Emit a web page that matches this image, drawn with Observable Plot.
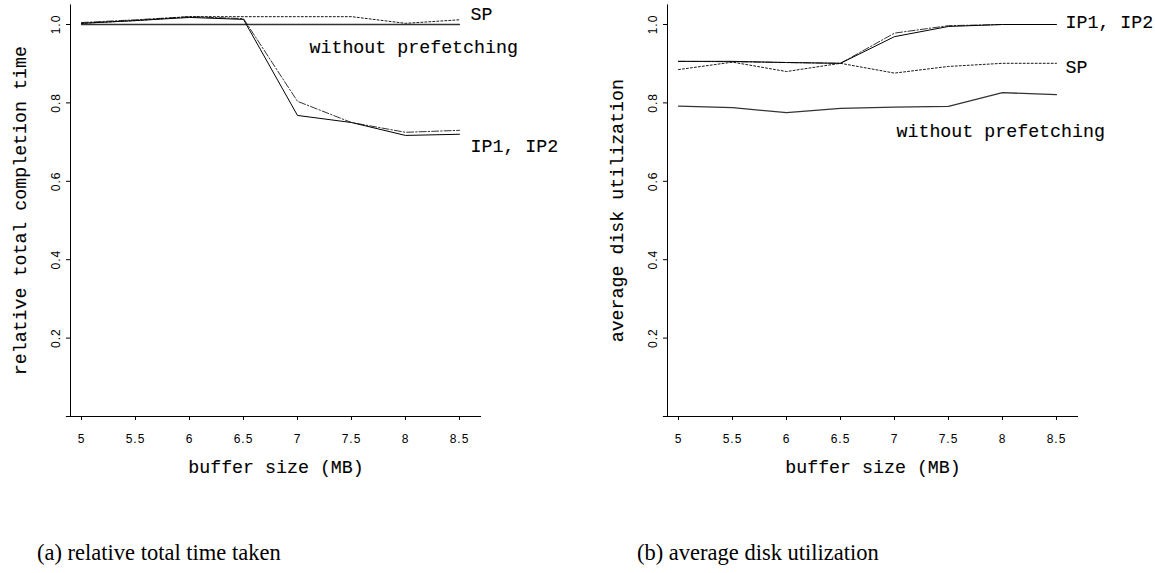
<!DOCTYPE html>
<html><head><meta charset="utf-8">
<script src="https://cdn.jsdelivr.net/npm/d3@7"></script>
<script src="https://cdn.jsdelivr.net/npm/@observablehq/plot@0.6"></script>
<style>
body{margin:0;background:#fff;}
#wrap{position:relative;width:1155px;height:573px;overflow:hidden;}
.panel{position:absolute;top:0;}
.cap{position:absolute;top:539px;font-family:"Liberation Serif",serif;font-size:22.5px;line-height:27px;color:#000;white-space:nowrap;}
</style></head><body>
<div id="wrap">
 <div id="pa" class="panel" style="left:0"></div>
 <div id="pb" class="panel" style="left:597px"></div>
 <div class="cap" style="left:37px">(a) relative total time taken</div>
 <div class="cap" style="left:637px">(b) average disk utilization</div>
</div>
<script>
const bufferSizes = [5, 5.5, 6, 6.5, 7, 7.5, 8, 8.5];
const xTicks = [5, 5.5, 6, 6.5, 7, 7.5, 8, 8.5];
const yTicks = [0.2, 0.4, 0.6, 0.8, 1.0];
const seriesNames = ["without prefetching", "SP", "IP1", "IP2"];

// (a) relative total completion time
const timeNoPrefetch = [1.0, 1.0, 1.0, 1.0, 1.0, 1.0, 1.0, 1.0];
const timeSP = [1.003, 1.010, 1.020, 1.020, 1.020, 1.020, 1.003, 1.012];
const timeIP1 = [1.003, 1.010, 1.018, 1.013, 0.768, 0.750, 0.717, 0.720];
const timeIP2 = [1.005, 1.012, 1.020, 1.015, 0.804, 0.750, 0.725, 0.730];

// (b) average disk utilization
const utilNoPrefetch = [0.792, 0.788, 0.775, 0.786, 0.789, 0.791, 0.826, 0.821];
const utilSP = [0.885, 0.904, 0.880, 0.901, 0.876, 0.893, 0.901, 0.901];
const utilIP1 = [0.906, 0.906, 0.903, 0.901, 0.969, 0.995, 1.0, 1.0];
const utilIP2 = [0.906, 0.905, 0.903, 0.901, 0.978, 0.997, 1.0, 1.0];

const SERIF = "Liberation Mono, monospace";
const SANS = "Liberation Sans, Arial, sans-serif";
const TXT = {fontSize: 18.3, fontFamily: SERIF, fill: "#000", stroke: "#000", strokeWidth: 0.12};

const styles = {
  "without prefetching": {stroke: "#333", strokeWidth: 1.3},
  "SP": {stroke: "#000", strokeWidth: 0.9, strokeDasharray: "2,2"},
  "IP1": {stroke: "#000", strokeWidth: 1},
  "IP2": {stroke: "#000", strokeWidth: 0.8, strokeDasharray: "7,2,1.5,2"}
};

function panel(valuesList, ylabel, notes) {
  const lines = seriesNames.map((name, k) => {
    const rows = bufferSizes.map((b, i) => ({x: b, y: valuesList[k][i]}));
    return Plot.line(rows, {x: "x", y: "y", ...styles[name]});
  });
  const noteMarks = notes.map(n => Plot.text([n], {
    x: d => d.x, y: d => d.y, text: d => d.text, dx: n.dx, dy: n.dy,
    textAnchor: "start", lineAnchor: "middle", ...TXT
  }));
  return Plot.plot({
    width: 558, height: 490,
    marginLeft: 70, marginRight: 77, marginTop: 4.4, marginBottom: 74,
    style: {background: "#fff", color: "#000", overflow: "visible"},
    x: {domain: [4.898, 8.704]},
    y: {domain: [0, 1.05]},
    marks: [
      Plot.ruleY([0], {x1: 4.86, x2: 8.704, stroke: "#000", strokeWidth: 1}),
      Plot.ruleX([4.898], {y1: 0, y2: 1.05, stroke: "#000", strokeWidth: 1}),
      Plot.axisX(xTicks, {tickSize: 4, tickPadding: 14, fontSize: 12, fontFamily: SANS, label: null, tickFormat: d => String(d)}),
      Plot.axisY(yTicks, {anchor: "left", tickSize: 4, tickPadding: 7, tickRotate: -90, fontSize: 12, fontFamily: SANS, label: null, tickFormat: d3.format(".1f")}),
      ...lines,
      Plot.text([ylabel], {frameAnchor: "left", dx: -50, rotate: -90, text: d => d, textAnchor: "middle", lineAnchor: "middle", ...TXT}),
      Plot.text(["buffer size (MB)"], {frameAnchor: "bottom", dy: 51, text: d => d, textAnchor: "middle", lineAnchor: "middle", ...TXT}),
      ...noteMarks
    ]
  });
}

const notesA = [
  {text: "SP", x: 8.5, y: timeSP[7], dx: 11, dy: -6},
  {text: "without prefetching", x: 7, y: timeNoPrefetch[4], dx: 12, dy: 23},
  {text: "IP1, IP2", x: 8.5, y: timeIP1[7], dx: 11, dy: 12}
];
const notesB = [
  {text: "IP1, IP2", x: 8.5, y: utilIP1[7], dx: 9, dy: -2},
  {text: "SP", x: 8.5, y: utilSP[7], dx: 9, dy: 4},
  {text: "without prefetching", x: 7, y: utilNoPrefetch[4], dx: 2, dy: 24}
];

const svgA = panel([timeNoPrefetch, timeSP, timeIP1, timeIP2], "relative total completion time", notesA);
const svgB = panel([utilNoPrefetch, utilSP, utilIP1, utilIP2], "average disk utilization", notesB);
for (const s of [svgA, svgB]) {
  s.querySelectorAll('[aria-label="x-axis tick label"] text, [aria-label="y-axis tick label"] text').forEach(t => t.setAttribute("letter-spacing", "1px"));
}
document.getElementById("pa").appendChild(svgA);
document.getElementById("pb").appendChild(svgB);
</script>
</body></html>
